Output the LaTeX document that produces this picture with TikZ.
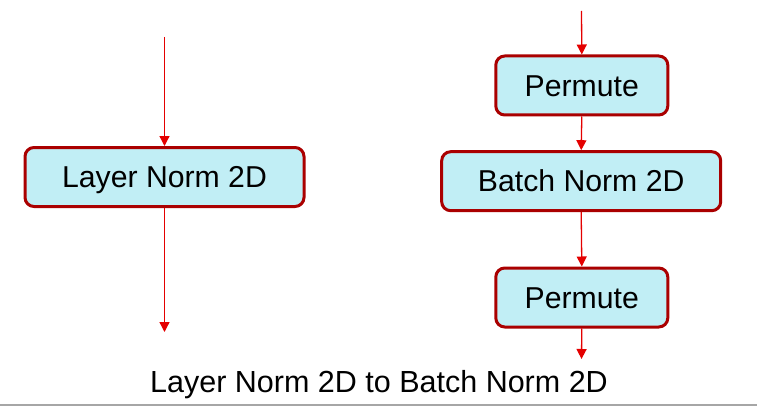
\documentclass[tikz,border=0pt]{standalone}
\usepackage{fontspec}
\setmainfont{Liberation Sans}
\usetikzlibrary{arrows.meta}
\definecolor{boxfill}{RGB}{193,238,245}
\definecolor{boxline}{RGB}{170,0,0}
\definecolor{arrred}{RGB}{228,0,0}
\definecolor{rulegray}{RGB}{166,166,166}
\tikzset{
  blockbox/.style={draw=boxline, fill=boxfill, line width=3pt, rounded corners=9pt,
    minimum height=59pt, inner sep=0pt, text height=21.5pt, text depth=0pt,
    font=\fontsize{30.2}{36}\selectfont},
  widebox/.style={blockbox, minimum width=279pt},
  narrowbox/.style={blockbox, minimum width=172pt},
  flow/.style={draw=arrred, line width=1.3pt, -{Triangle[length=10pt,width=10pt]}}
}
\begin{document}
\begin{tikzpicture}[x=1pt,y=-1pt]
\useasboundingbox (0,0) rectangle (757,409);
% left column
\coordinate (lin) at (164.5,37);
\coordinate (lout) at (164.5,332);
\node[widebox] (ln) at (164.5,177) {Layer Norm 2D};
\draw[flow] (lin) -- (ln.north);
\draw[flow] (ln.south) -- (lout);
% right column
\coordinate (rin) at (581.5,11);
\coordinate (rout) at (581.5,359);
\node[narrowbox] (p1) at (581.8,85.5) {Permute};
\node[widebox] (bn) at (581.2,181.2) {Batch Norm 2D};
\node[narrowbox] (p2) at (581.8,297.5) {Permute};
\draw[flow] (rin) -- (p1.north);
\draw[flow] (p1.south) -- (bn.north);
\draw[flow] (bn.south) -- (p2.north);
\draw[flow] (p2.south) -- (rout);
% caption
\node[anchor=base, inner sep=0pt, font=\fontsize{30.5}{36}\selectfont] (cap) at (379,392) {Layer Norm 2D to Batch Norm 2D};
\coordinate (gl) at (0,405);
\coordinate (gr) at (757,405);
\draw[rulegray, line width=1.2pt] (gl) -- (gr);
\end{tikzpicture}
\end{document}
